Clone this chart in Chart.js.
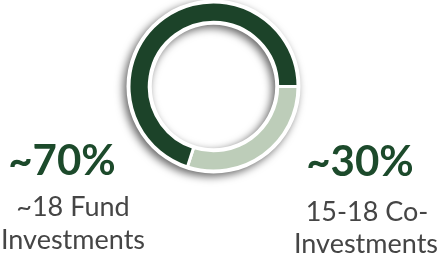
<!DOCTYPE html>
<html>
<head>
<meta charset="utf-8">
<script src="https://cdn.jsdelivr.net/npm/chart.js@4"></script>
<style>
  html, body { margin: 0; padding: 0; background: #ffffff; }
  #wrap { position: relative; width: 437px; height: 256px; overflow: hidden; }
  #chart { position: absolute; left: 0; top: 0; }
  .lbl { position: absolute; white-space: nowrap; line-height: 1; font-family: Lato, "Open Sans", sans-serif; transform: translateX(-50%); }
  .pct { font-weight: 700; font-size: 42px; color: #1c4a2b; }
  .sub { font-weight: 400; font-size: 27px; color: #454545; }
</style>
</head>
<body>
<div id="wrap">
  <canvas id="chart" width="437" height="256"></canvas>
  <div class="lbl pct" style="left:62px; top:138px;" id="p0"></div>
  <div class="lbl sub" style="left:73px; top:192px;" id="s0a"></div>
  <div class="lbl sub" style="left:73px; top:225px;" id="s0b"></div>
  <div class="lbl pct" style="left:360px; top:139px;" id="p1"></div>
  <div class="lbl sub" style="left:367px; top:197px;" id="s1a"></div>
  <div class="lbl sub" style="left:366px; top:229px;" id="s1b"></div>
</div>
<script>
// ---- data ----
const categories = ["15-18 Co-Investments", "~18 Fund Investments"];
const shareValues = [30, 70];
const shareLabels = ["~30%", "~70%"];
const subLabelLines = [["15-18 Co-", "Investments"], ["~18 Fund", "Investments"]];
const sliceColors = ["#bdcdb9", "#1c4329"];

// ---- text labels (real text) ----
document.getElementById("p1").textContent = shareLabels[0];
document.getElementById("s1a").textContent = subLabelLines[0][0];
document.getElementById("s1b").textContent = subLabelLines[0][1];
document.getElementById("p0").textContent = shareLabels[1];
document.getElementById("s0a").textContent = subLabelLines[1][0];
document.getElementById("s0b").textContent = subLabelLines[1][1];

// plugin: white ring with soft shadow behind the doughnut
const ringShadow = {
  id: "ringShadow",
  beforeDatasetsDraw(chart) {
    const meta = chart.getDatasetMeta(0);
    if (!meta.data.length) return;
    const a = meta.data[0];
    const ctx = chart.ctx;
    ctx.save();
    ctx.shadowColor = "rgba(0,0,0,0.6)";
    ctx.shadowBlur = 9;
    ctx.shadowOffsetX = -3;
    ctx.shadowOffsetY = 3;
    ctx.fillStyle = "#ffffff";
    ctx.beginPath();
    ctx.arc(a.x, a.y, a.outerRadius + 2.5, 0, Math.PI * 2, false);
    ctx.arc(a.x, a.y, Math.max(a.innerRadius - 2.5, 0), 0, Math.PI * 2, true);
    ctx.closePath();
    ctx.fill();
    ctx.restore();
  }
};

new Chart(document.getElementById("chart"), {
  type: "doughnut",
  data: {
    labels: categories,
    datasets: [{
      data: shareValues,
      backgroundColor: sliceColors,
      borderColor: "#ffffff",
      borderWidth: 3,
      hoverOffset: 0
    }]
  },
  options: {
    responsive: false,
    animation: false,
    rotation: 90,
    radius: 84.5,
    cutout: "76%",
    layout: { padding: { left: 127, right: 137, top: 0, bottom: 83 } },
    plugins: {
      legend: { display: false },
      tooltip: { enabled: false },
      title: { display: false }
    },
    events: []
  },
  plugins: [ringShadow]
});
</script>
</body>
</html>
